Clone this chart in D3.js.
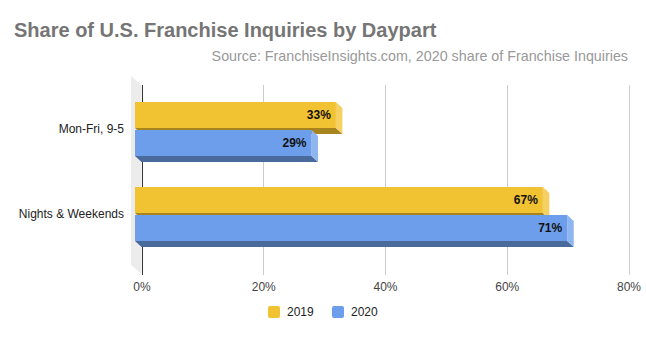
<!DOCTYPE html>
<html><head><meta charset="utf-8">
<script src="https://cdn.jsdelivr.net/npm/d3@7"></script>
<style>body{margin:0;background:#fff}svg{display:block;font-family:Arial,"Liberation Sans",sans-serif}</style>
</head><body><svg id="c" width="646" height="337"></svg>
<script>
const categories = ["Mon-Fri, 9-5", "Nights & Weekends"];
const seriesNames = ["2019", "2020"];
const values2019 = [33, 67];
const values2020 = [29, 71];
const tickValues = [0, 20, 40, 60, 80];
const tickLabels = ["0%", "20%", "40%", "60%", "80%"];

const colors = {
  "2019": {front: "#f1c232", bottom: "#a8841f", side: "#f5d063"},
  "2020": {front: "#6d9eeb", bottom: "#4a6a9c", side: "#8fb5f0"}
};
const DX = 6.5, DY = 6;

const svg = d3.select("#c");
svg.append("text").attr("x", 14).attr("y", 37).attr("font-size", 20).attr("font-weight", "bold")
  .attr("fill", "#757575").text("Share of U.S. Franchise Inquiries by Daypart");
svg.append("text").attr("x", 628).attr("y", 61).attr("font-size", 14.3).attr("text-anchor", "end")
  .attr("fill", "#999").text("Source: FranchiseInsights.com, 2020 share of Franchise Inquiries");

const x = d3.scaleLinear().domain([0, 80]).range([135, 622]);
const y = d3.scaleBand().domain(categories).range([86.5, 256.5]).paddingInner(0.365).paddingOuter(0.1825);
const ys = d3.scaleBand().domain(seriesNames).range([0, y.bandwidth()]).paddingInner(2 / 28);

// back wall
svg.append("path").attr("d", "M131,76 L141.5,85 L141.5,274 L131,265 Z").attr("fill", "#ececec");

// gridlines (back plane)
const g = svg.append("g");
g.selectAll("line").data(tickValues).join("line")
  .attr("x1", d => Math.round(x(d) + DX) + 0.5).attr("x2", d => Math.round(x(d) + DX) + 0.5)
  .attr("y1", 85).attr("y2", 275)
  .attr("stroke", d => d === 0 ? "#333" : "#ccc").attr("stroke-width", 1);

// axis labels
const axis = d3.axisBottom(d3.scaleLinear().domain([0, 80]).range([135 + DX, 622 + DX]))
  .tickValues(tickValues).tickFormat((d, i) => tickLabels[i]).tickSize(0).tickPadding(0);
const ag = svg.append("g").attr("transform", "translate(0,282)").call(axis);
ag.select(".domain").remove();
ag.selectAll("text").attr("font-size", 12).attr("fill", "#444").attr("font-family", "Arial, 'Liberation Sans', sans-serif").attr("dy", "0.71em");

// category labels
svg.selectAll(".cat").data(categories).join("text").attr("class", "cat")
  .attr("x", 124).attr("y", d => y(d) + y.bandwidth() / 2).attr("dy", "0.35em")
  .attr("text-anchor", "end").attr("font-size", 12).attr("fill", "#222").text(d => d);

// bars
const rows = [];
categories.forEach((c, i) => {
  rows.push({cat: c, s: "2019", v: values2019[i]});
  rows.push({cat: c, s: "2020", v: values2020[i]});
});
const bars = svg.append("g");
rows.forEach(r => {
  const x0 = x(0), x1 = x(r.v), y0 = y(r.cat) + ys(r.s), h = ys.bandwidth(), y1 = y0 + h;
  const col = colors[r.s];
  const bg = bars.append("g");
  bg.append("path").attr("d", `M${x0},${y1} L${x1},${y1} L${x1 + DX},${y1 + DY} L${x0 + DX},${y1 + DY} Z`).attr("fill", col.bottom);
  bg.append("path").attr("d", `M${x1},${y0} L${x1 + DX},${y0 + DY} L${x1 + DX},${y1 + DY} L${x1},${y1} Z`).attr("fill", col.side);
  bg.append("rect").attr("x", x0).attr("y", y0).attr("width", x1 - x0).attr("height", h).attr("fill", col.front);
  bg.append("text").attr("x", x1 - 5).attr("y", y0 + h / 2).attr("dy", "0.36em").attr("text-anchor", "end")
    .attr("font-size", 12).attr("font-weight", "bold").attr("fill", "#111").text(r.v + "%");
});

// legend
const lg = svg.append("g");
const lx = [268, 332];
seriesNames.forEach((s, i) => {
  lg.append("rect").attr("x", lx[i]).attr("y", 306).attr("width", 12).attr("height", 12).attr("rx", 2).attr("fill", colors[s].front);
  lg.append("text").attr("x", lx[i] + 19).attr("y", 312).attr("dy", "0.35em").attr("font-size", 12).attr("fill", "#222").text(s);
});
</script></body></html>
